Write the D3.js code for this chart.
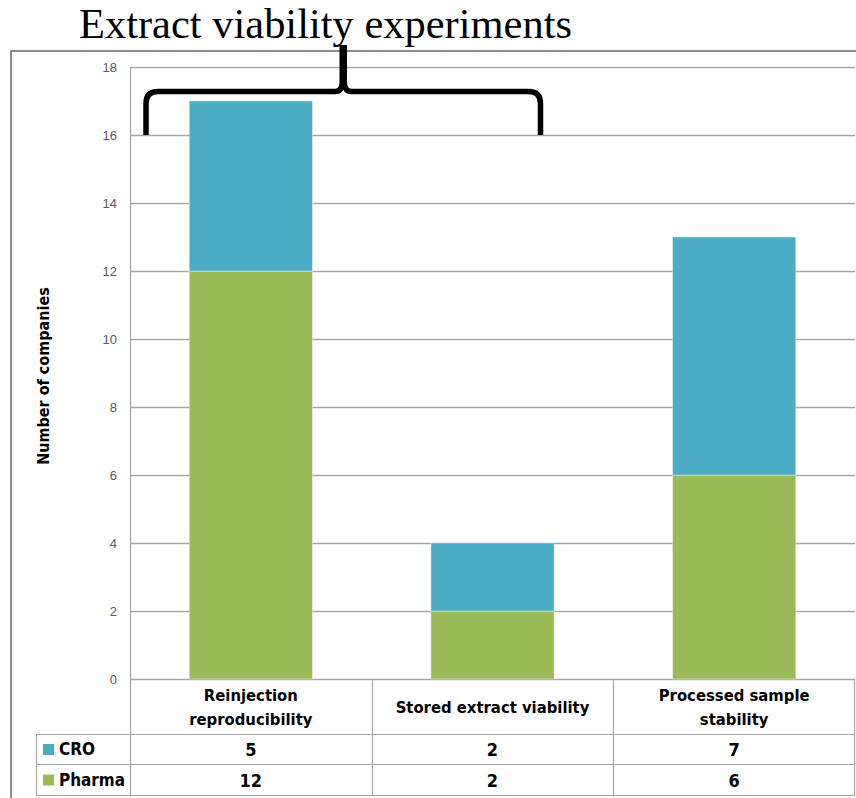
<!DOCTYPE html>
<html>
<head>
<meta charset="utf-8">
<script src="https://cdn.jsdelivr.net/npm/d3@7"></script>
<style>
  body { margin: 0; background: #fff; }
  svg { display: block; }
  .cat { font-family: "Liberation Sans Narrow", "DejaVu Sans Condensed", "Liberation Sans", sans-serif; font-weight: bold; fill: #000; }
</style>
</head>
<body>
<div id="chart"></div>
<script>
// chart values
let categories = [["Reinjection", "reproducibility"], ["Stored extract viability"], ["Processed sample", "stability"]];
let series = ["CRO", "Pharma"];
let cro = [5, 2, 7];
let pharma = [12, 2, 6];
let seriesColors = ["#4BACC6", "#9BBB59"];
let yTicks = [0, 2, 4, 6, 8, 10, 12, 14, 16, 18];

let width = 856, height = 798;
let plot = {left: 130, right: 855, top: 67, bottom: 679};
let rowTops = [734, 764, 795];
let tableLeft = 36;

let svg = d3.select("#chart")
    .append("svg")
    .attr("width", width)
    .attr("height", height);

let x = d3.scaleBand()
    .domain(d3.range(categories.length))
    .range([plot.left, plot.right])
    .paddingInner(0.49)
    .paddingOuter(0.245);

let y = d3.scaleLinear()
    .domain([0, 18])
    .range([plot.bottom, plot.top]);

// outer frame
svg.append("path")
    .attr("d", `M11,${height} V51 H${width}`)
    .attr("fill", "none")
    .attr("stroke", "#8c8c8c")
    .attr("stroke-width", 2);

// gridlines
svg.append("g")
    .selectAll("line")
    .data(yTicks)
    .enter()
    .append("line")
    .attr("x1", plot.left)
    .attr("x2", plot.right)
    .attr("y1", d => Math.round(y(d)) + 0.5)
    .attr("y2", d => Math.round(y(d)) + 0.5)
    .attr("stroke", "#a6a6a6")
    .attr("stroke-width", 1.3);

// y tick labels
svg.append("g")
    .selectAll("text")
    .data(yTicks)
    .enter()
    .append("text")
    .attr("x", 117)
    .attr("y", d => y(d) + 5)
    .attr("text-anchor", "end")
    .style("font-family", "'Liberation Sans', sans-serif")
    .style("font-size", "13px")
    .style("fill", "#595959")
    .text(d => d);

// y axis title
svg.append("text")
    .attr("class", "cat")
    .attr("transform", `translate(49, ${376}) rotate(-90)`)
    .attr("text-anchor", "middle")
    .style("font-size", "16px")
    .text("Number of companies");

// stacked bars
let stack = d3.stack().keys([1, 0]);
let stackData = categories.map((c, i) => ({0: cro[i], 1: pharma[i], i: i}));
let layers = stack(stackData);

svg.append("g")
    .selectAll("g")
    .data(layers)
    .enter()
    .append("g")
    .attr("fill", d => seriesColors[d.key])
    .selectAll("rect")
    .data(d => d)
    .enter()
    .append("rect")
    .attr("x", d => x(d.data.i))
    .attr("y", d => y(d[1]))
    .attr("width", x.bandwidth())
    .attr("height", d => y(d[0]) - y(d[1]))
    .attr("stroke", "#ffffff")
    .attr("stroke-opacity", 0.5)
    .attr("stroke-width", 0.8);

// data table lines
let tbl = svg.append("g")
    .attr("stroke", "#a6a6a6")
    .attr("stroke-width", 1.2)
    .attr("fill", "none");

rowTops.forEach(function(ry) {
    tbl.append("line")
        .attr("x1", tableLeft).attr("x2", plot.right)
        .attr("y1", ry + 0.5).attr("y2", ry + 0.5);
});
tbl.append("line")
    .attr("x1", tableLeft + 0.5).attr("x2", tableLeft + 0.5)
    .attr("y1", rowTops[0]).attr("y2", rowTops[2]);

let cols = d3.range(categories.length + 1).map(i => plot.left + i * x.step());
cols.forEach(function(cx, i) {
    tbl.append("line")
        .attr("x1", Math.round(cx) - (i == categories.length ? 1 : 0) + 0.5)
        .attr("x2", Math.round(cx) - (i == categories.length ? 1 : 0) + 0.5)
        .attr("y1", i == 0 ? plot.top : plot.bottom)
        .attr("y2", rowTops[2]);
});

// category labels
let catLabels = svg.append("g");
categories.forEach(function(lines, i) {
    let cx = x(i) + x.bandwidth() / 2;
    let mid = (plot.bottom + rowTops[0]) / 2;
    let t = catLabels.append("text")
        .attr("class", "cat")
        .attr("text-anchor", "middle")
        .style("font-size", "16.5px");
    lines.forEach(function(line, j) {
        t.append("tspan")
            .attr("x", cx)
            .attr("y", mid + 6 + (j - (lines.length - 1) / 2) * 24)
            .text(line);
    });
});

// table rows
let rowValues = [cro, pharma];
series.forEach(function(name, r) {
    let cy = (rowTops[r] + rowTops[r + 1]) / 2;
    svg.append("rect")
        .attr("x", 43)
        .attr("y", cy - 5)
        .attr("width", 11)
        .attr("height", 11)
        .attr("fill", seriesColors[r]);
    svg.append("text")
        .attr("class", "cat")
        .attr("x", 59)
        .attr("y", cy + 6)
        .style("font-size", "17px")
        .attr("textLength", name.length > 3 ? 66 : null)
        .attr("lengthAdjust", "spacingAndGlyphs")
        .text(name);
    svg.append("g")
        .selectAll("text")
        .data(rowValues[r])
        .enter()
        .append("text")
        .attr("class", "cat")
        .attr("x", (d, i) => x(i) + x.bandwidth() / 2)
        .attr("y", cy + 7)
        .attr("text-anchor", "middle")
        .style("font-size", "18px")
        .text(d => d);
});

// bracket over the first two categories
let bl = plot.left + 16;
let br = x(1) + x.bandwidth() / 2 + 48;
let bm = (bl + br) / 2;
let by = y(17.28), bEnd = y(16), bTop = 45;
svg.append("path")
    .attr("d", `M${bl},${bEnd} V${by + 12} Q${bl},${by} ${bl + 12},${by} H${bm - 8} Q${bm - 1},${by} ${bm - 1},${by - 10} V${bTop}
                M${bm + 1},${bTop} V${by - 10} Q${bm + 1},${by} ${bm + 8},${by} H${br - 12} Q${br},${by} ${br},${by + 12} V${bEnd}`)
    .attr("fill", "none")
    .attr("stroke", "#000")
    .attr("stroke-width", 5.5);

// title
svg.append("text")
    .attr("x", 325.5)
    .attr("y", 38)
    .attr("text-anchor", "middle")
    .style("font-family", "'Liberation Serif', 'Times New Roman', serif")
    .style("font-size", "43px")
    .attr("textLength", 493)
    .attr("lengthAdjust", "spacingAndGlyphs")
    .text("Extract viability experiments");
</script>
</body>
</html>
